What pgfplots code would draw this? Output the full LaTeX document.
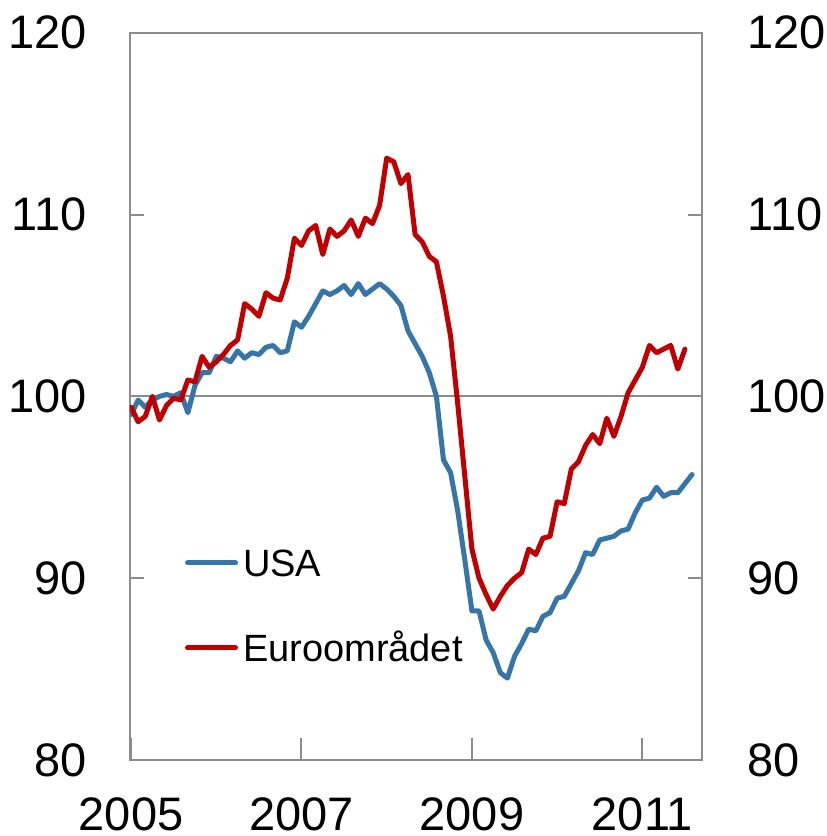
\documentclass[border=0pt]{standalone}
\usepackage{pgfplots}
\usepackage{pgfplotstable}
\pgfplotsset{compat=1.18}
\usepackage{fontspec}
\setmainfont{Liberation Sans}
\definecolor{usablue}{RGB}{55,117,168}
\definecolor{eured}{RGB}{192,0,0}
\definecolor{axgray}{RGB}{140,140,140}

\pgfplotstableread{
m v
0 99.0
1 99.8
2 99.4
3 99.8
4 100.0
5 100.1
6 100.0
7 100.2
8 99.1
9 100.6
10 101.3
11 101.3
12 102.2
13 102.1
14 101.9
15 102.5
16 102.1
17 102.4
18 102.3
19 102.7
20 102.8
21 102.4
22 102.5
23 104.1
24 103.8
25 104.4
26 105.1
27 105.8
28 105.6
29 105.8
30 106.1
31 105.6
32 106.2
33 105.6
34 105.9
35 106.2
36 105.9
37 105.5
38 105.0
39 103.6
40 102.9
41 102.2
42 101.3
43 100.0
44 96.5
45 95.8
46 93.7
47 91.0
48 88.2
49 88.2
50 86.6
51 85.9
52 84.8
53 84.5
54 85.7
55 86.4
56 87.2
57 87.1
58 87.9
59 88.1
60 88.9
61 89.0
62 89.7
63 90.4
64 91.4
65 91.3
66 92.1
67 92.2
68 92.3
69 92.6
70 92.7
71 93.6
72 94.3
73 94.4
74 95.0
75 94.5
76 94.7
77 94.7
78 95.2
79 95.7
}\usadata

\pgfplotstableread{
m v
0 99.4
1 98.6
2 98.9
3 100.0
4 98.7
5 99.5
6 99.9
7 99.8
8 100.9
9 100.8
10 102.2
11 101.6
12 101.9
13 102.3
14 102.8
15 103.1
16 105.1
17 104.8
18 104.4
19 105.7
20 105.4
21 105.3
22 106.5
23 108.7
24 108.3
25 109.1
26 109.4
27 107.8
28 109.2
29 108.8
30 109.1
31 109.7
32 108.8
33 109.8
34 109.5
35 110.5
36 113.1
37 112.9
38 111.7
39 112.2
40 108.9
41 108.5
42 107.7
43 107.4
44 105.5
45 103.3
46 99.6
47 95.6
48 91.6
49 90.0
50 89.1
51 88.3
52 89.0
53 89.6
54 90.0
55 90.3
56 91.6
57 91.3
58 92.2
59 92.3
60 94.2
61 94.1
62 96.0
63 96.4
64 97.3
65 97.9
66 97.4
67 98.8
68 97.8
69 98.9
70 100.2
71 100.9
72 101.6
73 102.8
74 102.4
75 102.6
76 102.8
77 101.5
78 102.6
}\eudata

\begin{document}
\begin{tikzpicture}
\useasboundingbox (-65pt,-38pt) rectangle (348pt,380pt);
\begin{axis}[
  scale only axis, width=286pt, height=363.65pt,
  xmin=-0.15, xmax=80.4, ymin=80, ymax=120,
  xtick={0,24,48,72}, xticklabels={2005,2007,2009,2011},
  ytick={80,90,100,110,120},
  xtick pos=left, ytick pos=both, tick align=inside,
  major tick length=7pt,
  xtick style={/pgfplots/major tick length=11pt},
  tick style={draw=axgray, line width=1pt},
  axis line style={draw=axgray, line width=1pt},
  /pgf/number format/assume math mode=true,
  tick label style={font=\fontsize{23.5}{28}\selectfont},
  xticklabel style={anchor=north, inner sep=0pt, yshift=-18.5pt},
  yticklabel style={anchor=east, inner sep=0pt, xshift=-21.5pt},
  extra y ticks={100}, extra y tick labels={},
  extra y tick style={grid=major, major grid style={draw=axgray, line width=1pt}},
  legend cell align=left,
  legend style={at={(0.0962,0.2896)}, anchor=north west, draw=none, fill=none,
    inner sep=0pt, outer sep=0pt, row sep=28.9pt,
    font=\fontsize{19}{22}\selectfont,
    nodes={inner sep=0pt, text height=13.6pt, text depth=0pt},
    /tikz/every odd column/.append style={column sep=2.5pt}},
  legend image code/.code={\draw[#1, line cap=round] (1.25pt,0pt) -- (25.25pt,0pt);},
]
\addplot[usablue, line width=2.5pt, line join=round, line cap=round] table[x=m, y=v] {\usadata};
\addlegendentry{USA}
\addplot[eured, line width=2.5pt, line join=round, line cap=round] table[x=m, y=v] {\eudata};
\addlegendentry{Euroområdet}
\end{axis}
\begin{axis}[
  scale only axis, width=286pt, height=363.65pt,
  xmin=-0.15, xmax=80.4, ymin=80, ymax=120,
  hide x axis, axis y line*=right,
  y axis line style={draw=none},
  ytick={80,90,100,110,120},
  major tick length=0pt,
  /pgf/number format/assume math mode=true,
  yticklabel style={font=\fontsize{23.5}{28}\selectfont, anchor=west, inner sep=0pt, xshift=22.5pt},
]
\end{axis}
\end{tikzpicture}
\end{document}
